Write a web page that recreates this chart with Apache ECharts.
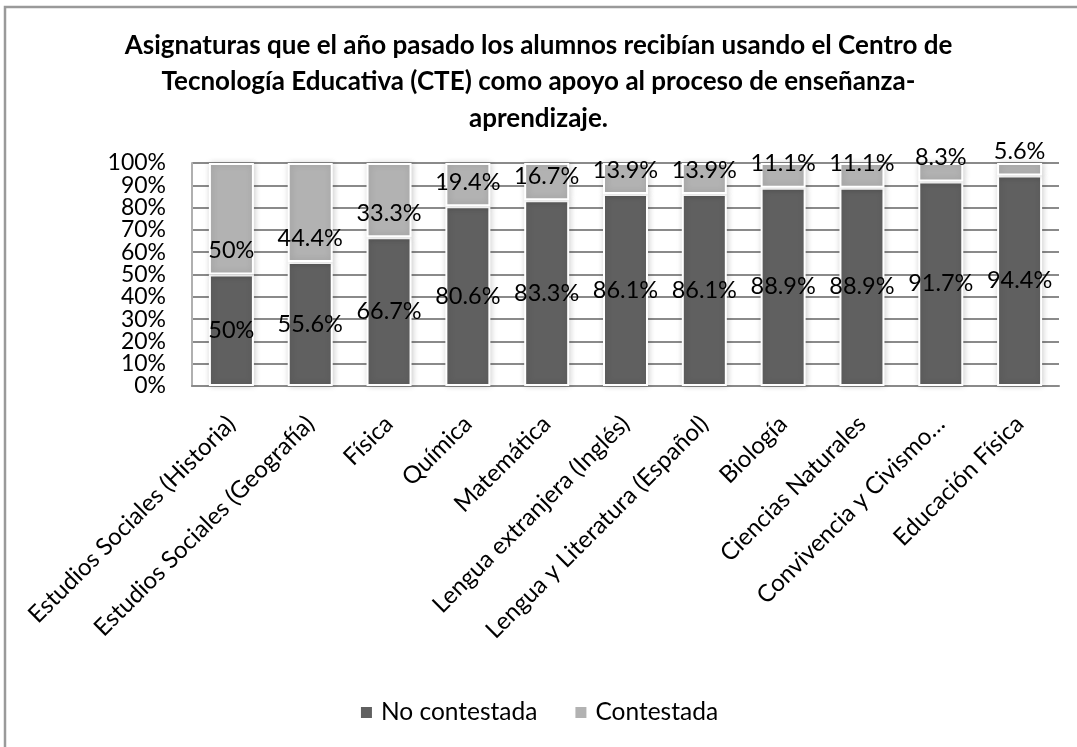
<!DOCTYPE html>
<html>
<head>
<meta charset="utf-8">
<script src="https://cdn.jsdelivr.net/npm/echarts@6/dist/echarts.min.js"></script>
<style>
  html, body { margin: 0; padding: 0; background: #fff; }
  #chart { width: 1077px; height: 747px; }
</style>
</head>
<body>
<div id="chart"></div>
<script>
// asignaturas (eje x)
const categories = [
  'Estudios Sociales (Historia)',
  'Estudios Sociales (Geografía)',
  'Física',
  'Química',
  'Matemática',
  'Lengua extranjera (Inglés)',
  'Lengua y Literatura (Español)',
  'Biología',
  'Ciencias Naturales',
  'Convivencia y Civismo…',
  'Educación Física'
];
const noContestada = [50, 55.6, 66.7, 80.6, 83.3, 86.1, 86.1, 88.9, 88.9, 91.7, 94.4];
const contestada = [50, 44.4, 33.3, 19.4, 16.7, 13.9, 13.9, 11.1, 11.1, 8.3, 5.6];
const seriesNames = ['No contestada', 'Contestada'];
const titleText = 'Asignaturas que el año pasado los alumnos recibían usando el Centro de\n' +
  'Tecnología Educativa (CTE) como apoyo al proceso de enseñanza-\naprendizaje.';

const font = 'Lato, "Open Sans", sans-serif';
const chart = echarts.init(document.getElementById('chart'));

const barStyle = (color) => ({
  color: color,
  borderColor: '#ffffff',
  borderWidth: 2,
  shadowColor: 'rgba(0,0,0,0.18)',
  shadowBlur: 6,
  shadowOffsetX: 1
});

// the ticks are packed tight, so the labels are split over two axes
// (even ones and odd ones) to stop echarts dropping the end labels
const yLabel = (even) => ({
  formatter: (v) => ((v / 10) % 2 === 0) === even ? v + '%' : '',
  margin: 26,
  showMinLabel: even,
  showMaxLabel: even,
  fontFamily: font,
  fontSize: 23,
  color: '#000'
});

chart.setOption({
  animation: false,
  backgroundColor: '#fff',
  graphic: [{
    type: 'rect',
    shape: { x: 5, y: 7, width: 1090, height: 760 },
    style: { fill: 'none', stroke: '#9a9a9a', lineWidth: 2.5 },
    silent: true
  }],
  title: {
    text: titleText,
    left: 'center',
    top: 22,
    textStyle: {
      fontFamily: font,
      fontSize: 26,
      fontWeight: 'bold',
      color: '#000',
      lineHeight: 36.5
    }
  },
  legend: {
    data: seriesNames,
    bottom: 17,
    left: 'center',
    icon: 'rect',
    itemWidth: 13,
    itemHeight: 13,
    itemGap: 36,
    textStyle: { fontFamily: font, fontSize: 24.5, color: '#000', padding: [0, 0, 0, 3] }
  },
  grid: {
    left: 192,
    right: 18,
    top: 163,
    bottom: 361,
    containLabel: false
  },
  xAxis: {
    type: 'category',
    data: categories,
    axisLine: { show: true, lineStyle: { color: '#8a8a8a', width: 2 } },
    axisTick: { show: false },
    axisLabel: {
      rotate: 45,
      interval: 0,
      margin: 34,
      fontFamily: font,
      fontSize: 24,
      color: '#000'
    }
  },
  yAxis: [
    {
      type: 'value',
      min: 0,
      max: 100,
      interval: 10,
      axisLine: { show: true, lineStyle: { color: '#b0b0b0', width: 2 } },
      axisTick: { show: false },
      splitLine: { lineStyle: { color: '#8a8a8a', width: 2 } },
      axisLabel: yLabel(true)
    },
    {
      type: 'value',
      position: 'left',
      min: 0,
      max: 100,
      interval: 10,
      axisLine: { show: false },
      axisTick: { show: false },
      splitLine: { show: false },
      axisLabel: yLabel(false)
    }
  ],
  series: [
    {
      name: seriesNames[0],
      type: 'bar',
      stack: 'total',
      data: noContestada,
      barWidth: 45,
      itemStyle: barStyle('#606060'),
      label: {
        show: true,
        position: 'inside',
        formatter: '{c}%',
        fontFamily: font,
        fontSize: 23.5,
        color: '#000'
      }
    },
    {
      name: seriesNames[1],
      type: 'bar',
      stack: 'total',
      data: contestada,
      barWidth: 45,
      itemStyle: barStyle('#b2b2b2'),
      label: {
        show: true,
        position: 'insideBottom',
        distance: 12,
        formatter: '{c}%',
        fontFamily: font,
        fontSize: 23.5,
        color: '#000'
      }
    }
  ]
});
</script>
</body>
</html>
